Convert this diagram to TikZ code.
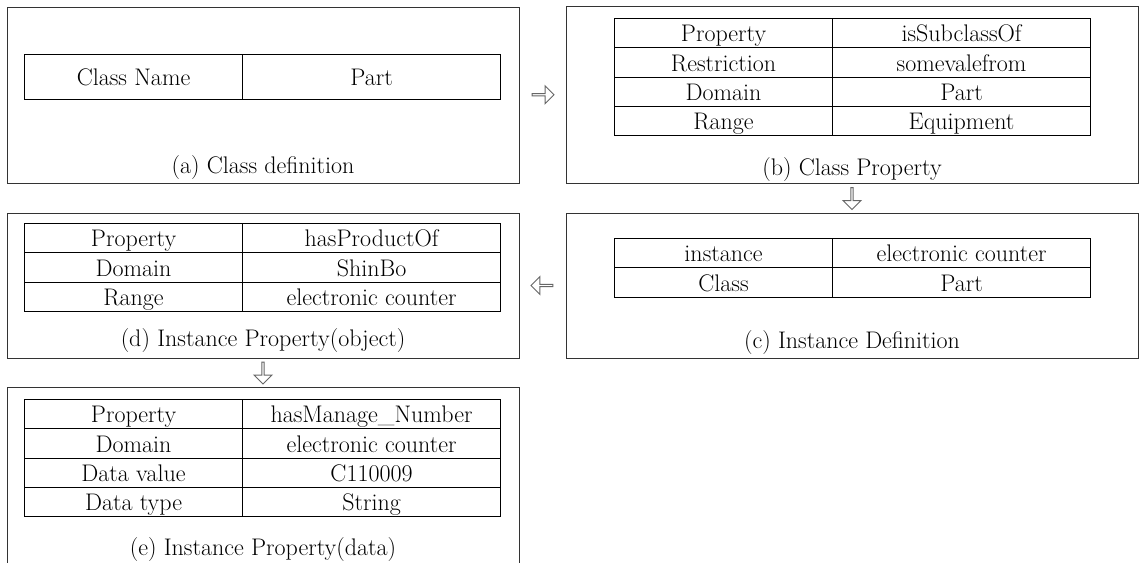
\documentclass[tikz,border=0pt]{standalone}
\usepackage{tikz}
\usetikzlibrary{positioning,shapes.arrows,calc}

\begin{document}
\begin{tikzpicture}[x=1pt, y=-1pt,
        every node/.append style={font=\fontsize{24}{28}\selectfont},
        panel/.style={draw=black!80, line width=1pt, inner sep=0pt},
        cell/.style={draw, line width=1.1pt, inner sep=0pt, anchor=north west,
                     minimum height=29.3pt, text height=19.5pt, text depth=2.5pt},
        keycell/.style={cell, minimum width=218pt},
        valcell/.style={cell, minimum width=258pt},
        caption/.style={inner sep=0pt, anchor=base},
        flow/.style={single arrow, draw=black!60, fill=white, line width=0.9pt,
                     minimum height=22pt, minimum width=18pt,
                     single arrow head extend=3pt, inner sep=0pt}
    ]
        \useasboundingbox (0,0) rectangle (1140,562);
        \fill[white] (0,0) rectangle (1140,562);
        \clip (0,0) rectangle (1140,562);

        % panels
        \node[panel, minimum width=512pt, minimum height=176pt] (pa) at (263,95) {};
        \node[panel, minimum width=572pt, minimum height=177pt] (pb) at (852,94.5) {};
        \node[panel, minimum width=572pt, minimum height=145pt] (pc) at (852,285.5) {};
        \node[panel, minimum width=512pt, minimum height=145pt] (pd) at (263,285.5) {};
        \node[panel, minimum width=512pt, minimum height=193pt] (pe) at (263,483.5) {};

        % (a)
        \node[keycell, minimum height=45pt] (a-k0) at (24,54) {Class Name};
        \node[valcell, minimum height=45pt] (a-v0) at (242,54) {Part};
        \node[caption] (capa) at ($(pa.south)+(0,-10)$) {(a) Class definition};

        % (b)
        \foreach \k/\v [count=\i from 0] in {Property/isSubclassOf, Restriction/somevalefrom,
                Domain/Part, Range/Equipment} {
            \node[keycell] (b-k\i) at (614,18+29.3*\i) {\k};
            \node[valcell] (b-v\i) at (832,18+29.3*\i) {\v};
        }
        \node[caption] (capb) at ($(pb.south)+(0,-8.5)$) {(b) Class Property};

        % (c)
        \foreach \k/\v [count=\i from 0] in {instance/electronic counter, Class/Part} {
            \node[keycell] (c-k\i) at (614,238+29.3*\i) {\k};
            \node[valcell] (c-v\i) at (832,238+29.3*\i) {\v};
        }
        \node[caption] (capc) at ($(pc.south)+(0,-10)$) {(c) Instance Definition};

        % (d)
        \foreach \k/\v [count=\i from 0] in {Property/hasProductOf, Domain/ShinBo,
                Range/electronic counter} {
            \node[keycell] (d-k\i) at (24,223+29.3*\i) {\k};
            \node[valcell] (d-v\i) at (242,223+29.3*\i) {\v};
        }
        \node[caption] (capd) at ($(pd.south)+(0,-12)$) {(d) Instance Property(object)};

        % (e)
        \foreach \k/\v [count=\i from 0] in {Property/hasManage\_Number, Domain/electronic counter,
                Data value/C110009, Data type/String} {
            \node[keycell] (e-k\i) at (24,399+29.3*\i) {\k};
            \node[valcell] (e-v\i) at (242,399+29.3*\i) {\v};
        }
        \node[caption] (cape) at (263,555) {(e) Instance Property(data)};

        % flow between panels
        \node[flow] (ab) at ($(pa.east)!0.5!(pb.west)$) {};
        \node[flow, rotate=-90] (bc) at ($(pb.south)!0.5!(pc.north)$) {};
        \node[flow, rotate=180] (cd) at ($(pc.west)!0.5!(pd.east)$) {};
        \node[flow, rotate=-90] (de) at ($(pd.south)!0.5!(pe.north)$) {};
    \end{tikzpicture}
\end{document}
